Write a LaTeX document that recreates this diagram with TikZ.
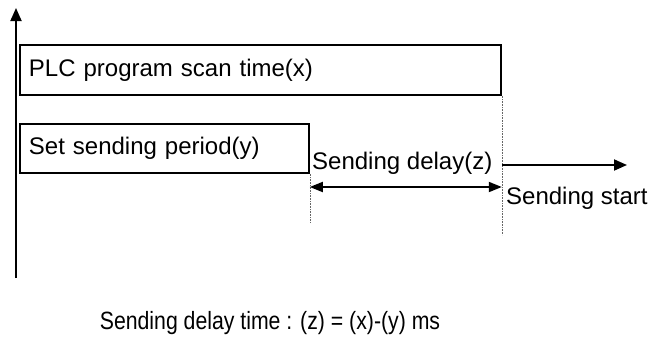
\documentclass[tikz,border=0pt]{standalone}
\usepackage{fontspec}
\setmainfont{Liberation Sans}
\newfontfamily\narrowfont[FakeStretch=0.85]{Liberation Sans}
\usetikzlibrary{arrows.meta, positioning, calc}

\begin{document}
\begin{tikzpicture}[
    x=1pt, y=-1pt,
    every node/.style={font=\fontsize{24}{28}\selectfont},
    bar/.style={draw, line width=1.8pt, anchor=north west, inner xsep=9pt, inner ysep=0pt, align=left},
    arrow/.style={-{Triangle[length=13pt, width=11pt]}, line width=1.8pt},
    both/.style={{Triangle[length=13pt, width=10pt]}-{Triangle[length=13pt, width=10pt]}, line width=1.8pt},
    guide/.style={densely dotted, line width=0.6pt, black!60}
]

\useasboundingbox (0,0) rectangle (650,340);

% === TIME AXIS ===

\coordinate (axisbot) at (16,278);
\coordinate (axistop) at (16,8);
\draw[arrow] (axisbot) -- (axistop);

% === BARS ===

% scan time
\node[bar, text width=463pt, minimum height=50pt] (scan) at (19,44) {PLC program scan time(x)};

% sending period
\node[bar, text width=271pt, minimum height=49pt] (period) at (19,123) {Set sending period(y)};

% === DELAY ===

\coordinate (cutA) at (period.south east |- 0,223);
\coordinate (cutB) at (scan.south east |- 0,235);
\draw[guide] (period.south east) -- (cutA);
\draw[guide] (scan.south east) -- (cutB);

\node[anchor=west, inner sep=0pt] (delay) at (312,163) {Sending delay(z)};
\draw[both] (period.south east |- 0,187) -- (scan.south east |- 0,187);

% === START ===

\coordinate (startend) at (627,165);
\draw[arrow] (scan.south east |- 0,165) -- (startend);
\node[anchor=west, inner sep=0pt] (start) at (506,198) {Sending start};

% === FORMULA ===

\node[font=\narrowfont\fontsize{25}{30}\selectfont] (formula) at (270,323) {Sending delay time : (z) = (x)-(y) ms};

\end{tikzpicture}
\end{document}
